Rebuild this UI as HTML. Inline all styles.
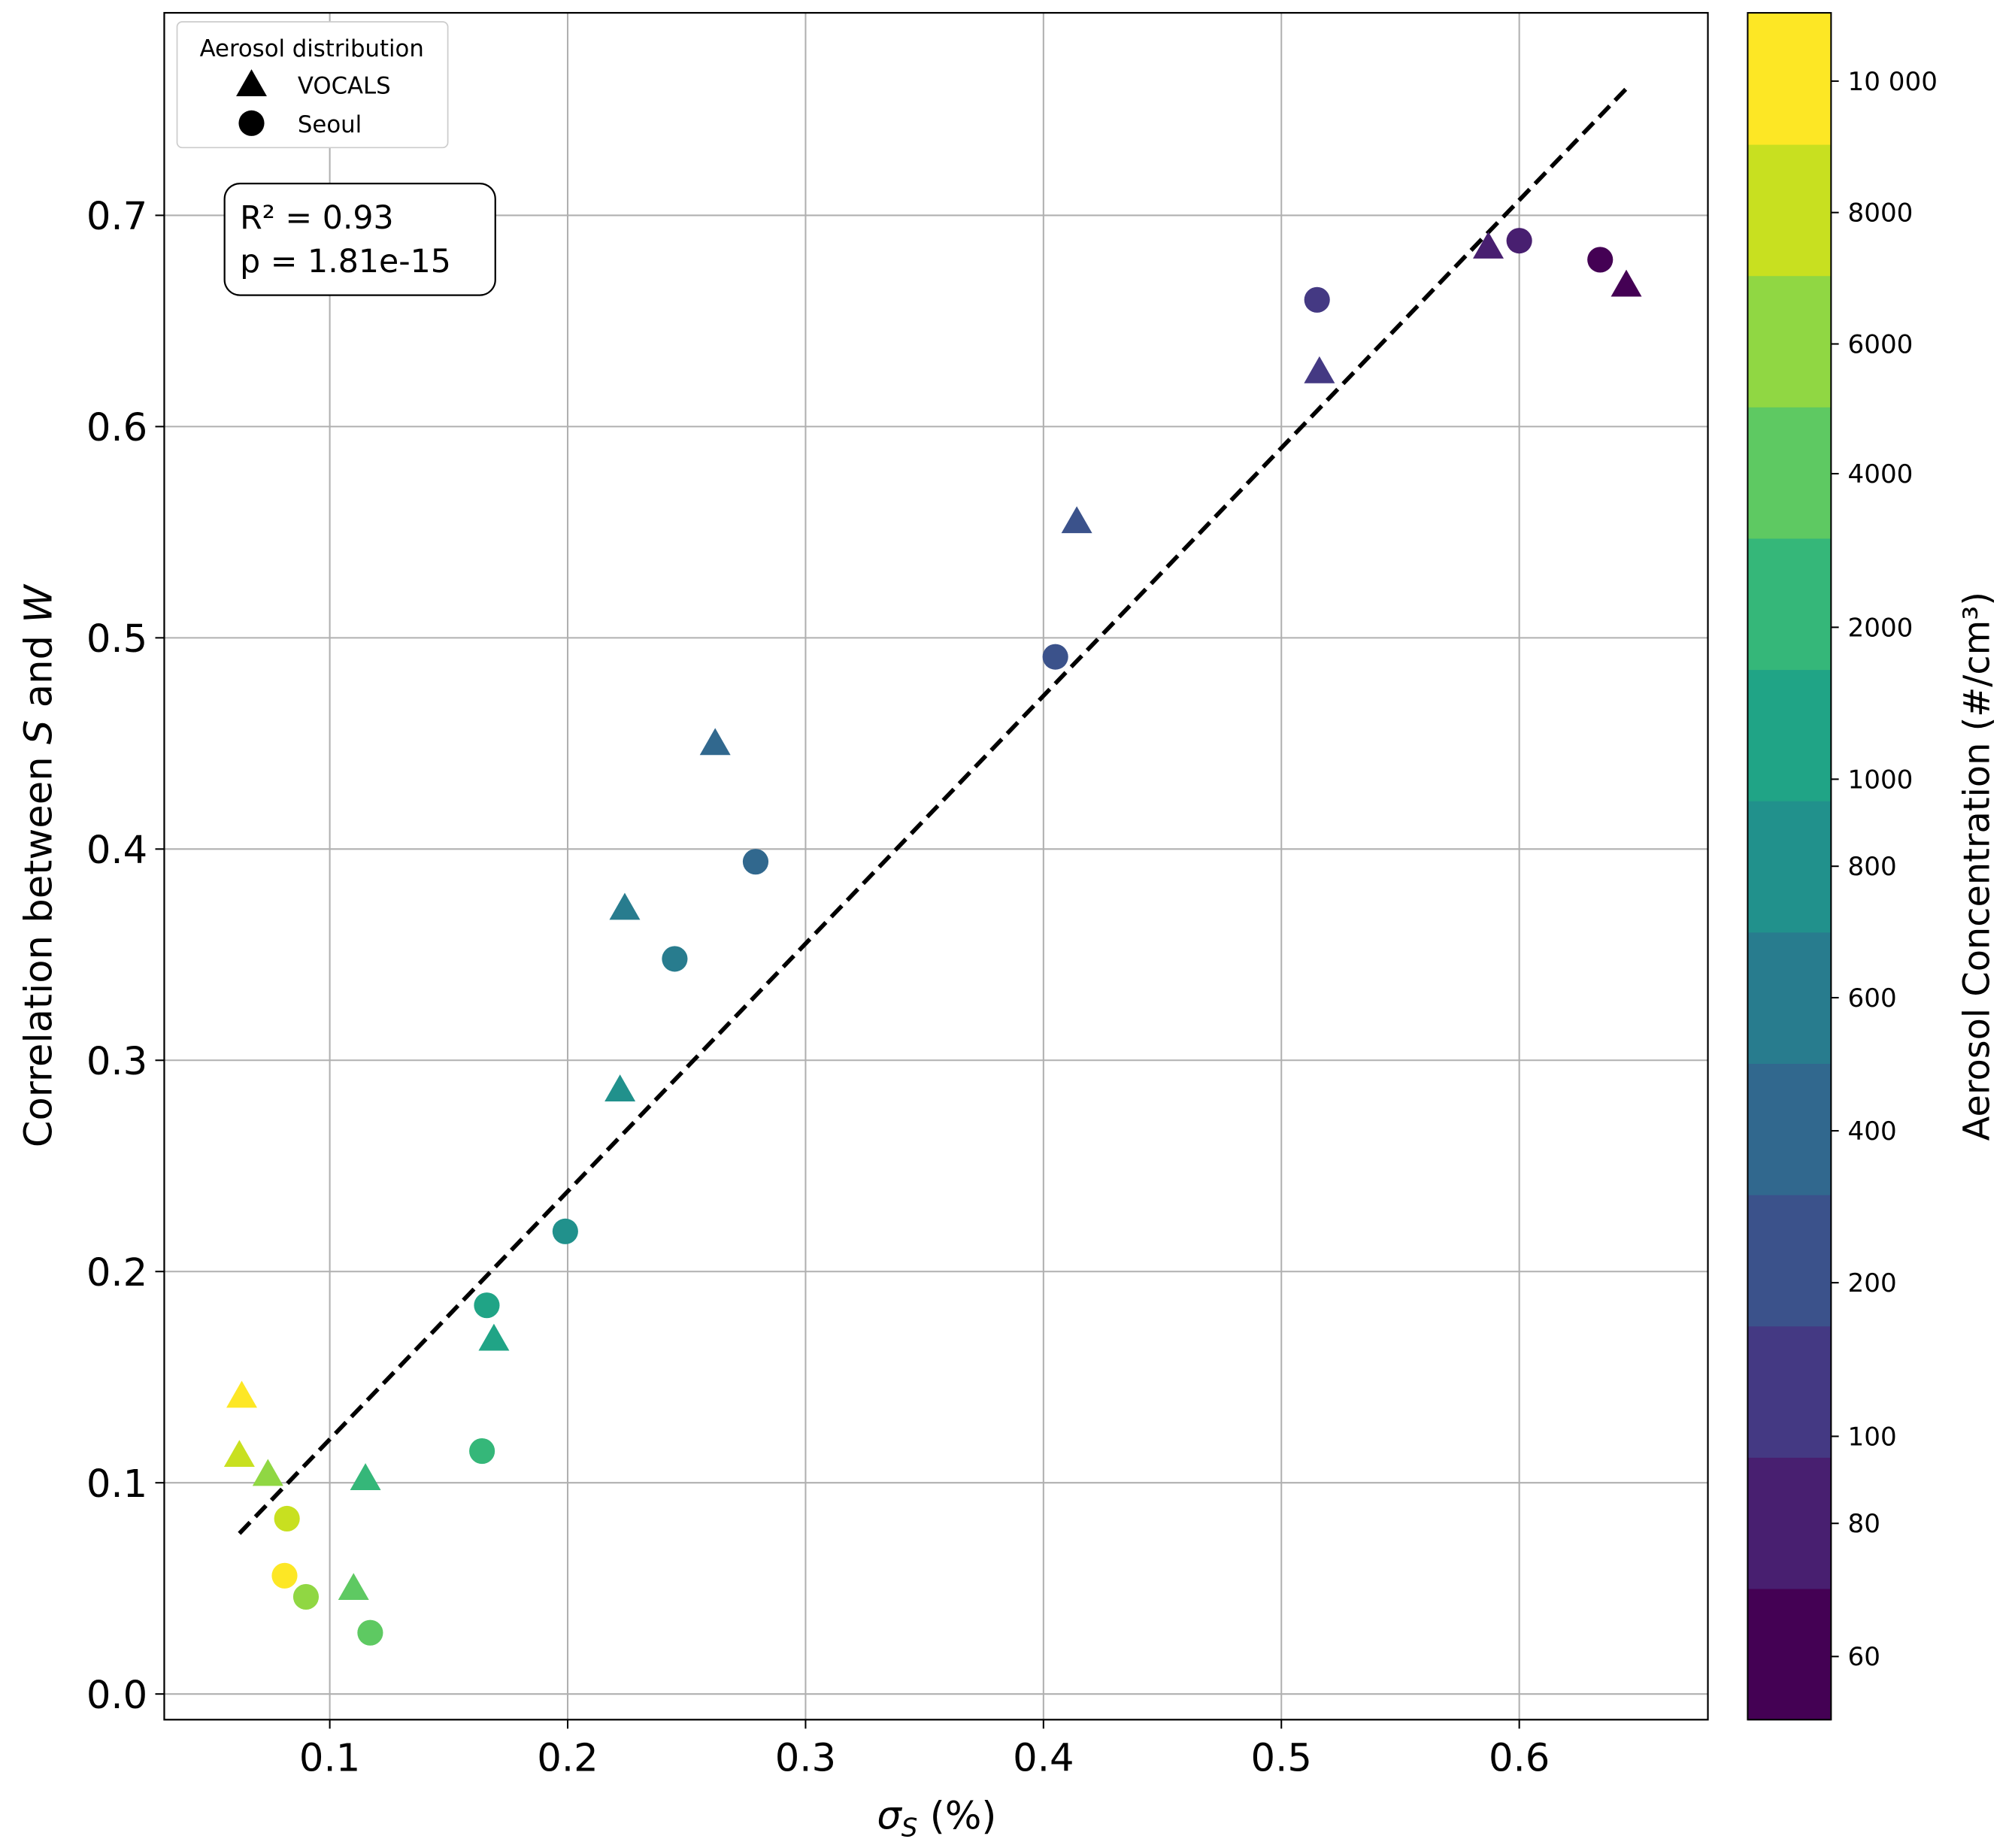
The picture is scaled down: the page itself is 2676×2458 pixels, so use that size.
<!DOCTYPE html>
<html><head><meta charset="utf-8"><style>html,body{margin:0;padding:0;background:#fff}svg{display:block}text{font-family:"DejaVu Sans","Liberation Sans",sans-serif}</style></head>
<body>
<svg id="chart" width="2676" height="2458" viewBox="0 0 1568 1440" preserveAspectRatio="none" xmlns="http://www.w3.org/2000/svg">
<g id="grid"></g>
<g id="fit"></g>
<g id="marks"></g>
<rect x="128" y="10" width="1203" height="1330" fill="none" stroke="#000" stroke-width="1.3"/>
<g id="ticks"></g>
<text x="730" y="1425" font-size="30" text-anchor="middle"><tspan font-style="italic">σ</tspan><tspan font-style="italic" font-size="20" dy="6">S</tspan><tspan dy="-6"> (%)</tspan></text>
<text transform="translate(40,675) rotate(-90)" font-size="30" text-anchor="middle">Correlation between <tspan font-style="italic">S</tspan> and <tspan font-style="italic">W</tspan></text>
<g>
<rect x="138" y="17" width="211" height="98" rx="4" fill="#fff" stroke="#ccc"/>
<text x="243" y="44" font-size="18" text-anchor="middle">Aerosol distribution</text>
<polygon points="184,75 196,54 208,75" fill="#000"/>
<text x="232" y="73" font-size="18">VOCALS</text>
<circle cx="196" cy="96" r="10" fill="#000"/>
<text x="232" y="103" font-size="18">Seoul</text>
</g>
<g>
<rect x="175" y="143" width="211" height="87" rx="12" fill="#fff" stroke="#000" stroke-width="1.3"/>
<text x="187" y="178" font-size="25">R² = 0.93</text>
<text x="187" y="212" font-size="25">p = 1.81e-15</text>
</g>
<g id="cbar"></g>
<text transform="translate(1550,675) rotate(-90)" font-size="28" text-anchor="middle">Aerosol Concentration (#/cm³)</text>
</svg>
<script>
const NS="http://www.w3.org/2000/svg";
const bandColors=["#440154","#481f70","#443983","#3b528b","#31688e","#287c8e","#21918c","#20a486","#35b779","#5ec962","#90d743","#c8e020","#fde725"];
const xTicks=[0.1,0.2,0.3,0.4,0.5,0.6];
const yTicks=[0.0,0.1,0.2,0.3,0.4,0.5,0.6,0.7];
const vocalsX=[0.645,0.587,0.516,0.414,0.262,0.224,0.222,0.169,0.115,0.110,0.074,0.062,0.063];
const vocalsY=[0.667,0.685,0.626,0.555,0.450,0.372,0.286,0.168,0.102,0.050,0.104,0.113,0.141];
const vocalsLevel=[0,1,2,3,4,5,6,7,8,9,10,11,12];
const seoulX=[0.634,0.600,0.515,0.405,0.279,0.245,0.199,0.166,0.164,0.117,0.090,0.082,0.081];
const seoulY=[0.679,0.688,0.660,0.491,0.394,0.348,0.219,0.184,0.115,0.029,0.046,0.083,0.056];
const seoulLevel=[0,1,2,3,4,5,6,7,8,9,10,11,12];
const fitX=[0.062,0.645];
const fitY=[0.076,0.760];
const cbarLabels=["60","80","100","200","400","600","800","1000","2000","4000","6000","8000","10 000"];
const cbarLabelFrac=[0.037,0.115,0.166,0.256,0.345,0.423,0.500,0.551,0.640,0.730,0.806,0.883,0.960];
const X=v=>257+(v-0.1)*1854, Y=v=>1320-v*1646;
function mk(tag,attrs,parent){const e=document.createElementNS(NS,tag);for(const k in attrs)e.setAttribute(k,attrs[k]);parent.appendChild(e);return e;}
const grid=document.getElementById('grid'),ticks=document.getElementById('ticks');
xTicks.forEach(t=>{const x=X(t);
 const g=mk('line',{x1:x,x2:x,y1:10,y2:1340,stroke:'#b0b0b0','stroke-width':1.2},grid);
 
 
 mk('line',{x1:x,x2:x,y1:1340,y2:1347,stroke:'#000','stroke-width':1.2},ticks);
 const l=mk('text',{x:x,y:1380,'font-size':30,'text-anchor':'middle'},ticks);l.textContent=t.toFixed(1);
 
 });
yTicks.forEach(t=>{const y=Y(t);
 const g=mk('line',{x1:128,x2:1331,y1:y,y2:y,stroke:'#b0b0b0','stroke-width':1.2},grid);
 
 
 mk('line',{x1:121,x2:128,y1:y,y2:y,stroke:'#000','stroke-width':1.2},ticks);
 const l=mk('text',{x:115,y:y+11,'font-size':30,'text-anchor':'end'},ticks);l.textContent=t.toFixed(1);
 
 });
const fl=mk('line',{x1:X(fitX[0]),y1:Y(fitY[0]),x2:X(fitX[1]),y2:Y(fitY[1]),stroke:'#000','stroke-width':3.3,'stroke-dasharray':'12,6'},document.getElementById('fit'));


const marks=document.getElementById('marks');
vocalsX.forEach((v,i)=>{const x=X(v),y=Y(vocalsY[i]);
 const p=mk('polygon',{points:`${x-12},${y+9} ${x},${y-12} ${x+12},${y+9}`,fill:bandColors[vocalsLevel[i]]},marks);
 
 });
seoulX.forEach((v,i)=>{
 const c=mk('circle',{cx:X(v),cy:Y(seoulY[i]),r:10,fill:bandColors[seoulLevel[i]]},marks);
 
 });
const cb=document.getElementById('cbar');const cbTop=10,cbBot=1340,bandH=(cbBot-cbTop)/13;
bandColors.forEach((c,i)=>{const r=mk('rect',{x:1362,y:cbBot-(i+1)*bandH,width:65,height:bandH+0.5,fill:c},cb);
 
 });
mk('rect',{x:1362,y:cbTop,width:65,height:cbBot-cbTop,fill:'none',stroke:'#000','stroke-width':1.2},cb);
cbarLabels.forEach((s,i)=>{const y=cbBot-cbarLabelFrac[i]*(cbBot-cbTop);
 mk('line',{x1:1427,x2:1433,y1:y,y2:y,stroke:'#000','stroke-width':1.2},cb);
 const t=mk('text',{x:1440,y:y+7,'font-size':20},cb);t.textContent=s;
 
 });
</script>
</body></html>
